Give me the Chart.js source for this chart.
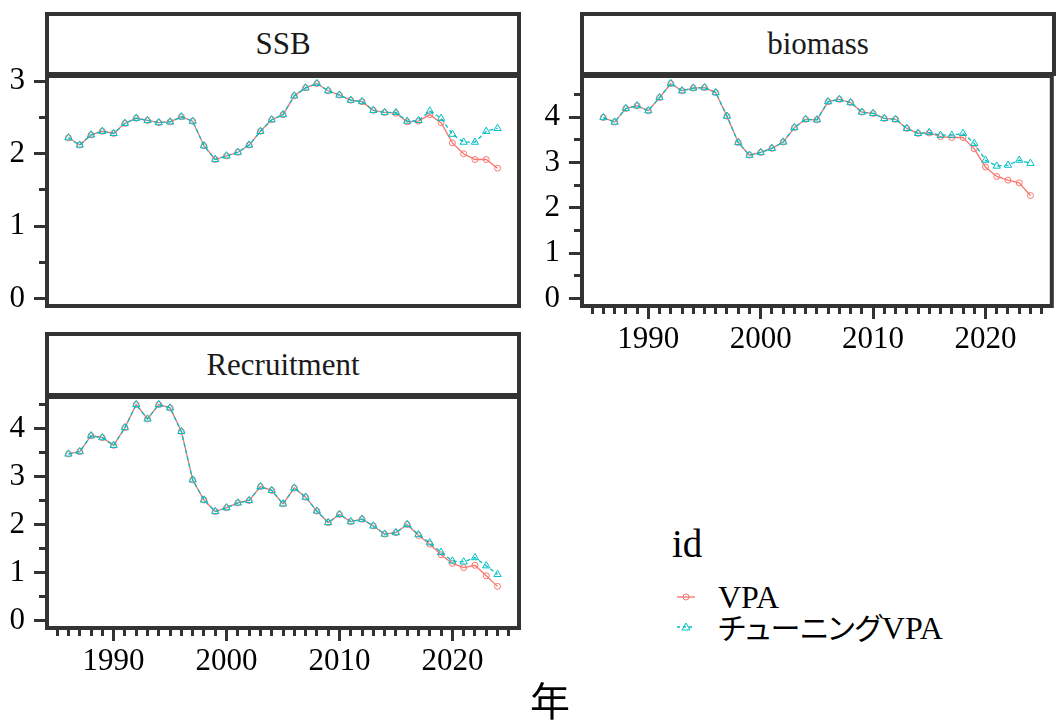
<!DOCTYPE html>
<html><head><meta charset="utf-8">
<script src="https://cdn.jsdelivr.net/npm/chart.js@4.4.1/dist/chart.umd.min.js"></script>
<style>
html,body{margin:0;padding:0;background:#fff;}
body{width:1057px;height:720px;overflow:hidden;position:relative;}
canvas{position:absolute;}
.serif{font-family:'Liberation Serif','Times New Roman',Times,serif;}
.jp{font-family:'Noto Sans CJK JP',sans-serif;}
.palt{font-feature-settings:"palt" 1;font-size:30px;}
.strip{position:absolute;box-sizing:border-box;border:4px solid #333;background:#fff;display:flex;align-items:center;justify-content:center;font-size:31px;color:#1a1a1a;z-index:2;}
.txt{position:absolute;white-space:nowrap;line-height:1;color:#000;}
</style></head><body>

<div class="strip serif" style="left:45px;top:12px;width:476px;height:64px;">SSB</div>
<div class="strip serif" style="left:580px;top:12px;width:476px;height:64px;">biomass</div>
<div class="strip serif" style="left:45px;top:332px;width:476px;height:65px;">Recruitment</div>

<canvas id="cSSB" width="530" height="290" style="left:0;top:40px;"></canvas>
<canvas id="cBio" width="527" height="316" style="left:530px;top:40px;"></canvas>
<canvas id="cRec" width="530" height="316" style="left:0;top:362px;"></canvas>

<div class="txt serif" style="left:672px;top:524px;font-size:39px;">id</div>
<svg style="position:absolute;left:674px;top:590px" width="26" height="14">
  <line x1="3" y1="7" x2="21" y2="7" stroke="#F8766D" stroke-width="1.3"/>
  <circle cx="12" cy="7" r="3" fill="none" stroke="#F8766D" stroke-width="1"/>
</svg>
<svg style="position:absolute;left:674px;top:620px" width="26" height="14">
  <line x1="3" y1="7" x2="21" y2="7" stroke="#00BFC4" stroke-width="1.3" stroke-dasharray="3 3"/>
  <polygon points="12,3 16,10 8,10" fill="none" stroke="#00BFC4" stroke-width="1"/>
</svg>
<div class="txt serif" style="left:718px;top:581px;font-size:32px;">VPA</div>
<div class="txt serif" style="left:718px;top:611px;font-size:32px;"><span class="jp palt">チューニング</span>VPA</div>
<div class="txt jp" style="left:500px;width:100px;text-align:center;top:679px;font-size:40px;">年</div>

<script>
// ---- data ----
const years = [1986,1987,1988,1989,1990,1991,1992,1993,1994,1995,1996,1997,1998,1999,2000,2001,2002,2003,2004,2005,2006,2007,2008,2009,2010,2011,2012,2013,2014,2015,2016,2017,2018,2019,2020,2021,2022,2023,2024];

const ssbVPA   = [2.22,2.12,2.26,2.31,2.28,2.42,2.49,2.46,2.43,2.44,2.51,2.45,2.11,1.92,1.97,2.02,2.12,2.31,2.47,2.54,2.80,2.91,2.97,2.87,2.81,2.74,2.72,2.60,2.57,2.56,2.44,2.45,2.54,2.43,2.15,2.00,1.92,1.92,1.80];
const ssbTuned = [2.22,2.12,2.26,2.31,2.28,2.42,2.49,2.46,2.43,2.44,2.51,2.45,2.11,1.92,1.97,2.02,2.12,2.31,2.47,2.54,2.80,2.91,2.97,2.87,2.81,2.74,2.72,2.60,2.57,2.57,2.45,2.46,2.59,2.49,2.27,2.16,2.16,2.31,2.35];

const bioVPA   = [3.99,3.89,4.19,4.25,4.14,4.43,4.74,4.58,4.64,4.65,4.54,4.02,3.44,3.16,3.22,3.31,3.45,3.77,3.95,3.94,4.34,4.39,4.32,4.11,4.08,3.97,3.95,3.75,3.64,3.65,3.57,3.55,3.55,3.30,2.90,2.69,2.61,2.55,2.27];
const bioTuned = [3.99,3.89,4.19,4.25,4.14,4.43,4.74,4.58,4.64,4.65,4.54,4.02,3.44,3.16,3.22,3.31,3.45,3.77,3.95,3.94,4.34,4.39,4.32,4.11,4.08,3.97,3.95,3.75,3.64,3.66,3.60,3.60,3.64,3.42,3.05,2.92,2.94,3.05,2.98];

const recVPA   = [3.47,3.52,3.85,3.81,3.65,4.02,4.50,4.20,4.50,4.43,3.94,2.93,2.51,2.27,2.35,2.45,2.50,2.79,2.71,2.43,2.76,2.57,2.28,2.04,2.21,2.06,2.11,1.97,1.80,1.83,2.00,1.77,1.59,1.37,1.19,1.10,1.15,0.93,0.71];
const recTuned = [3.47,3.52,3.85,3.81,3.65,4.02,4.50,4.20,4.50,4.43,3.94,2.93,2.51,2.27,2.35,2.45,2.50,2.79,2.71,2.43,2.76,2.57,2.28,2.04,2.21,2.06,2.11,1.97,1.80,1.83,2.00,1.79,1.62,1.42,1.24,1.22,1.31,1.14,0.96];

const xTickYears = [1985,1986,1987,1988,1989,1990,1991,1992,1993,1994,1995,1996,1997,1998,1999,2000,2001,2002,2003,2004,2005,2006,2007,2008,2009,2010,2011,2012,2013,2014,2015,2016,2017,2018,2019,2020,2021,2022,2023,2024,2025];
const ssbTicks = [0,0.5,1,1.5,2,2.5,3];
const bioTicks = [0,0.5,1,1.5,2,2.5,3,3.5,4,4.5];
const recTicks = [0,0.5,1,1.5,2,2.5,3,3.5,4,4.5];

const seriesNames = ['VPA','チューニングVPA'];

// ---- drawing ----
const FONT = {family:'Liberation Serif', size:31};
const frame = {
  id:'frame',
  afterDatasetsDraw(chart){
    const {ctx, chartArea:a} = chart;
    ctx.save();
    ctx.strokeStyle = '#333'; ctx.lineWidth = 4;
    ctx.strokeRect(a.left, a.top, a.right - a.left, a.bottom - a.top);
    ctx.restore();
  }
};

function makeChart(id, vpa, tuned, yTicks, showX, yWidth, pad){
  const span = years[years.length-1] - years[0];
  const xmin = years[0] - span*0.05, xmax = years[years.length-1] + span*0.05;
  const vmax = Math.max(...vpa, ...tuned);
  const ymin = -vmax*0.035, ymax = vmax*1.035;
  const pts = arr => years.map((y,i)=>({x:y, y:arr[i]}));
  new Chart(document.getElementById(id), {
    type:'line',
    data:{datasets:[
      {label:seriesNames[0], data:pts(vpa), borderColor:'#F8766D', borderWidth:1.3, tension:0,
       pointStyle:'circle', pointRadius:3, pointBorderWidth:1, pointBorderColor:'#F8766D', pointBackgroundColor:'rgba(0,0,0,0)', order:2},
      {label:seriesNames[1], data:pts(tuned), borderColor:'#00BFC4', borderWidth:1.3, borderDash:[4,3], tension:0,
       pointStyle:'triangle', pointRadius:4.2, pointBorderWidth:1, pointBorderColor:'#00BFC4', pointBackgroundColor:'rgba(0,0,0,0)', order:1}
    ]},
    options:{
      responsive:false, animation:false, devicePixelRatio:1,
      layout:{padding:{top:pad.top, right:pad.right, bottom:pad.bottom, left:0}},
      plugins:{legend:{display:false}, tooltip:{enabled:false}},
      scales:{
        x:{type:'linear', display:showX, min:xmin, max:xmax, bounds:'data',
           afterBuildTicks:s=>{ s.ticks = xTickYears.map(v=>({value:v})); },
           afterFit:s=>{ s.height = showX ? 50 : 0; s.paddingLeft = 0; s.paddingRight = 0; },
           border:{display:false},
           grid:{drawOnChartArea:false, tickLength:13, tickWidth:3, tickColor:'#333',
                 tickBorderDash:c=> (c.tick && c.tick.value % 10 === 0) ? [] : [8,100]},
           ticks:{autoSkip:false, maxRotation:0, minRotation:0, padding:2, color:'#000', font:FONT,
                  callback:v=> v % 10 === 0 ? String(v) : ''}},
        y:{type:'linear', min:ymin, max:ymax, bounds:'data',
           afterBuildTicks:s=>{ s.ticks = yTicks.map(v=>({value:v})); },
           afterFit:s=>{ s.width = yWidth; s.paddingTop = 0; s.paddingBottom = 0; },
           border:{display:false},
           grid:{drawOnChartArea:false, tickLength:13, tickWidth:3, tickColor:'#333',
                 tickBorderDash:c=> (c.tick && Number.isInteger(c.tick.value)) ? [] : [8,100],
                 tickBorderDashOffset:c=> (c.tick && Number.isInteger(c.tick.value)) ? 0 : 103},
           ticks:{autoSkip:false, padding:9, color:'#000', font:FONT,
                  callback:v=> Number.isInteger(v) ? String(v) : ''}}
      }
    },
    plugins:[frame]
  });
}

makeChart('cSSB', ssbVPA, ssbTuned, ssbTicks, false, 47, {top:36, right:11, bottom:24});
makeChart('cBio', bioVPA, bioTuned, bioTicks, true, 52, {top:36, right:3, bottom:0});
makeChart('cRec', recVPA, recTuned, recTicks, true, 47, {top:35, right:11, bottom:0});
</script>
</body></html>
